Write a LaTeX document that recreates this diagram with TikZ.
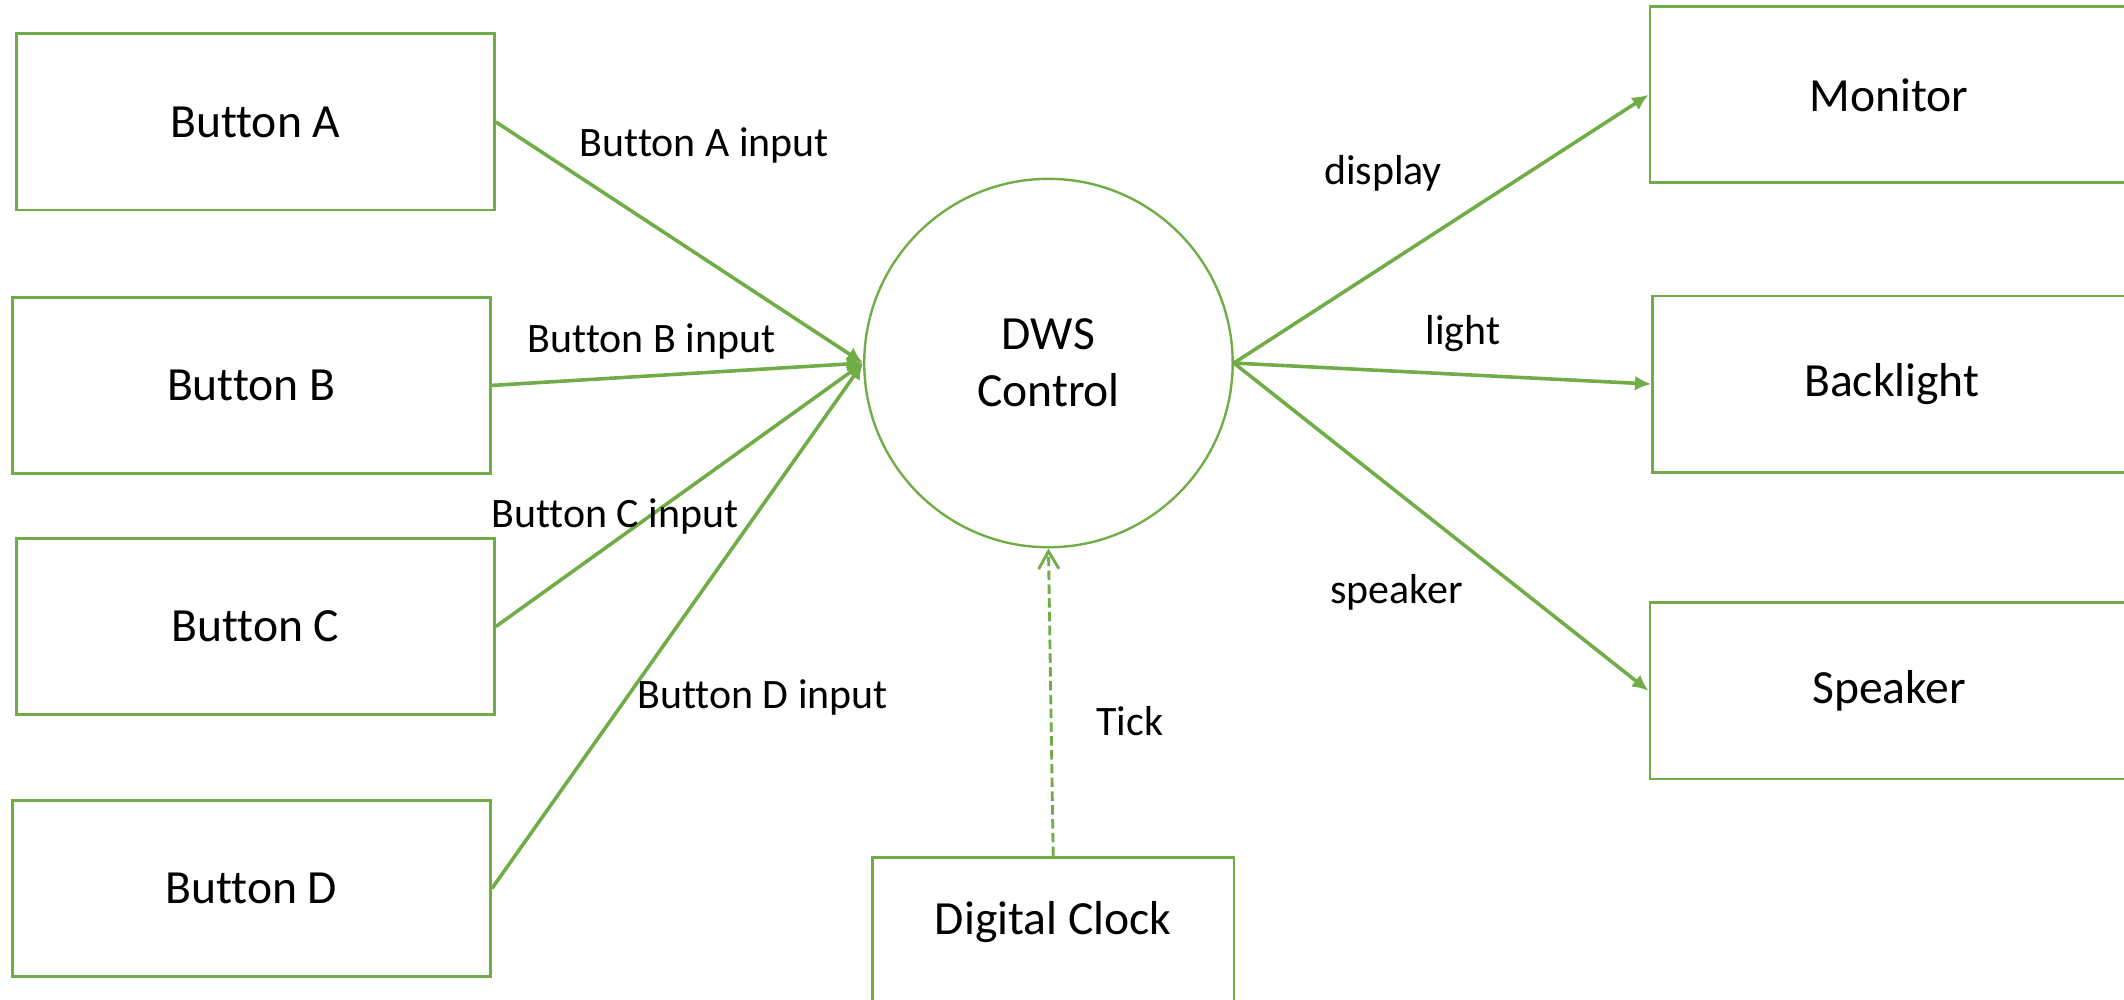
\documentclass[tikz,border=0pt]{standalone}
\usepackage{fontspec}
\setmainfont{Carlito}[Ligatures=NoCommon]
\usetikzlibrary{arrows.meta}

\definecolor{dwsgreen}{HTML}{70AD47}

\tikzstyle{block}=[draw=dwsgreen, line width=0.6pt, minimum width=3.53cm, minimum height=1.30cm, inner sep=0pt, font=\fontsize{10}{12}\selectfont]
\tikzstyle{ctrl}=[draw=dwsgreen, circle, line width=0.5pt, minimum size=2.72cm, inner sep=0pt, align=center, font=\fontsize{10}{12}\selectfont]
\tikzstyle{flow}=[draw=dwsgreen, line width=0.75pt, -{Latex[length=1.2mm,width=1.1mm]}]
\tikzstyle{clocked}=[draw=dwsgreen, line width=0.6pt, dash pattern=on 2pt off 0.9pt, -{Straight Barb[length=1.3mm,width=1.5mm]}]
\tikzstyle{lbl}=[font=\fontsize{8.8}{10.5}\selectfont, inner sep=0pt]

\begin{document}
\begin{tikzpicture}
	\useasboundingbox (0,0) rectangle (15.68,-7.375);
	% inputs on the left
	\foreach \pos/\name/\txt in {{(1.885,-0.90)/btnA/Button A}, {(1.855,-2.845)/btnB/Button B}, {(1.885,-4.625)/btnC/Button C}, {(1.855,-6.56)/btnD/Button D}}
		\node[block] (\name) at \pos {\txt};
	% outputs on the right, cut off by the page edge
	\foreach \pos/\name/\txt in {{(12.17,-0.70)/monitor/Monitor}, {(12.19,-2.835)/backlight/Backlight}, {(12.17,-5.10)/speaker/Speaker}}
		\node[block, anchor=west] (\name) at \pos {\txt};
	\node[ctrl] (dws) at (7.74,-2.68) {DWS\\Control};
	\node[block, anchor=north, minimum width=2.67cm, minimum height=0pt, text height=0.57cm, text depth=1.5cm] (clock) at (7.775,-6.32) {Digital Clock};
	\foreach \source in {btnA, btnB, btnC, btnD}
		\path[flow] (\source.east) -- (dws.west);
	\foreach \dest in {monitor, backlight, speaker}
		\path[flow] (dws.east) -- (\dest.west);
	\path[clocked] (clock.north) -- (dws.south);
	% flow labels
	\foreach \pos/\txt in {{(5.20,-1.07)/Button A input}, {(4.81,-2.52)/Button B input}, {(4.54,-3.81)/Button C input}, {(5.63,-5.15)/Button D input}, {(10.21,-1.28)/display}, {(10.80,-2.46)/light}, {(10.31,-4.37)/speaker}, {(8.34,-5.32)/Tick}}
		\node[lbl] at \pos {\txt};
\end{tikzpicture}
\end{document}
